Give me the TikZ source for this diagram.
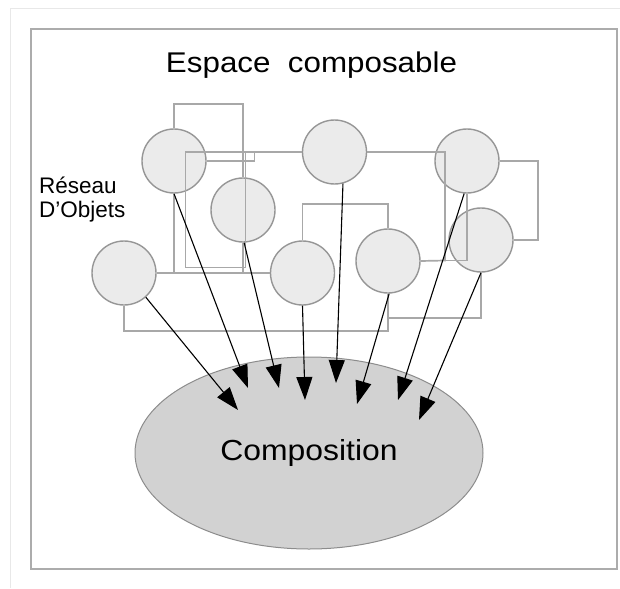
\documentclass[tikz,border=0pt]{standalone}
\usepackage{fontspec}
\setmainfont{Liberation Sans}
\usetikzlibrary{arrows.meta,shapes.geometric}
\definecolor{framec}{RGB}{172,172,172}
\definecolor{faintc}{RGB}{232,232,232}
\definecolor{circfill}{RGB}{235,235,235}
\definecolor{circdraw}{RGB}{150,150,150}
\definecolor{linkc}{RGB}{168,168,168}
\definecolor{ellfill}{RGB}{210,210,210}
\definecolor{elldraw}{RGB}{140,140,140}
\tikzset{
  obj/.style={circle, minimum size=64pt, inner sep=0pt, fill=circfill, draw=circdraw, line width=1.4pt},
  link/.style={draw=linkc, line width=1.7pt},
  flow/.style={draw=black, line width=1.1pt, -{Triangle[length=23pt,width=16pt]}},
  comp/.style={ellipse, minimum width=348pt, minimum height=192pt, inner sep=0pt, fill=ellfill, draw=elldraw, line width=1pt},
  lbl/.style={inner sep=0pt, text=black}
}
\begin{document}
\begin{tikzpicture}[x=1pt,y=-1pt]
\useasboundingbox (0,0) rectangle (620,588);
% window edges and frame
\draw[faintc, line width=1pt] (10,588) -- (10,9) -- (620,9);
\draw[framec, line width=2pt] (31,29) rectangle (617,569);

% title and side label
\node[lbl, anchor=base] (title) at (311.5,73) {\fontsize{28.5}{34}\selectfont\scalebox{1.1}[1]{Espace\ \ composable}};
\node[lbl, anchor=base west] (res) at (39,193) {\fontsize{22.5}{24}\selectfont Réseau};
\node[lbl, anchor=base west] (obj) at (39,217) {\fontsize{22.5}{24}\selectfont D'Objets};

% composition ellipse
\node[comp] (E) at (309,453) {\fontsize{29}{34}\selectfont\scalebox{1.1}[1]{Composition}};

% objects
\node[obj] (C1) at (174,161) {};
\node[obj] (C2) at (243,210) {};
\node[obj] (C3) at (124,273) {};
\node[obj] (C4) at (302.5,273) {};
\node[obj] (C5) at (334.5,152) {};
\node[obj] (C6) at (388,261) {};
\node[obj] (C7) at (467,161) {};
\node[obj] (C8) at (481,240) {};

% network links
\draw[link] (C1.north) -- (174,104) -- (243,104) -- (C2.north);
\draw[link] (C1.south) -- (174,273);
\draw[link] (C2.south) -- (243,273);
\draw[link] (C3.east) -- (C4.west);
\draw[link] (C5.west) -- (185.5,152) -- (185.5,267.5) -- (245.5,267.5) -- (245.5,152);
\draw[link] (C1.east) -- (254.5,161) -- (254.5,152);
\draw[link] (C5.east) -- (445,152) -- (445,260.5) -- (C6.east);
\draw[link] (C7.south) -- (467,260.5) -- (445,260.5);
\draw[link] (C4.north) -- (302.5,204) -- (388,204) -- (C6.north);
\draw[link] (C3.south) -- (124,331) -- (388,331) -- (C6.south);
\draw[link] (388,318) -- (481,318) -- (C8.south);
\draw[link] (C7.east) -- (538,161) -- (538,240) -- (C8.east);

% arrow end points
\coordinate (t3) at (238,410);
\coordinate (t1) at (248,388);
\coordinate (t2) at (279,388);
\coordinate (t4) at (305,400);
\coordinate (t5) at (336,383);
\coordinate (t6) at (357,404);
\coordinate (t7) at (398,400);
\coordinate (t8) at (419,420);

\draw[flow] (C3.-48) -- (t3);
\draw[flow] (C1.south) -- (t1);
\draw[flow] (C2.-88) -- (t2);
\draw[flow] (C4.south) -- (t4);
\draw[flow] (C5.-75) -- (t5);
\draw[flow] (C6.-88) -- (t6);
\draw[flow] (C7.-95) -- (t7);
\draw[flow] (C8.south) -- (t8);
\end{tikzpicture}
\end{document}
